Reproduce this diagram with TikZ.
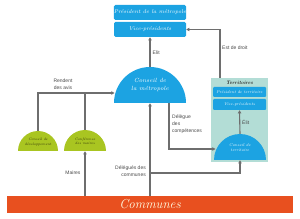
\documentclass[tikz,border=0pt]{standalone}
\usepackage{fontspec}
\setsansfont{Liberation Sans}
\usetikzlibrary{arrows.meta,calc}
\definecolor{mblue}{HTML}{1CA3E2}
\definecolor{mgreen}{HTML}{A9C521}
\definecolor{mteal}{HTML}{B3DDD6}
\definecolor{morange}{HTML}{E8501F}
\definecolor{mgrey}{HTML}{6E6E6E}
\definecolor{mtext}{HTML}{4A4A4A}
\definecolor{mdark}{HTML}{33360A}
\begin{document}
\begin{tikzpicture}[x=1pt,y=-1pt,
  bluebox/.style={fill=mblue,rounded corners=1.5pt,text=white,font=\rmfamily\itshape\fontsize{5.5}{7}\selectfont,inner sep=0pt},
  smallbluebox/.style={fill=mblue,rounded corners=1pt,text=white,font=\rmfamily\itshape\fontsize{4}{5}\selectfont,inner sep=0pt},
  domelabel/.style={inner sep=0pt,align=center},
  lbl/.style={font=\sffamily\fontsize{5}{7}\selectfont,text=mtext,inner sep=0pt},
  conn/.style={draw=mgrey,line width=1.1pt},
  arr/.style={conn,-{Triangle[length=3.2pt,width=3.4pt]}}
]
\useasboundingbox (0,0) rectangle (300,219);
% top boxes
\node[bluebox,minimum width=72pt,minimum height=15pt] (pm) at (150,12.5) {Président de la métropole};
\node[bluebox,minimum width=72pt,minimum height=15pt] (vp) at (150,29.5) {Vice-présidents};
% territory box
\fill[mteal] (211,78) rectangle (268,162);
\node[font=\rmfamily\itshape\bfseries\fontsize{5}{6}\selectfont,text=black!85,inner sep=0pt] (terr) at (239.5,83) {Territoires};
\coordinate (terrtop) at (220,78);
\node[smallbluebox,minimum width=53pt,minimum height=10pt] (pt) at (239.5,92) {Président de territoire};
\node[smallbluebox,minimum width=53pt,minimum height=11pt] (tvp) at (239.5,104.5) {Vice-présidents};
% domes
\fill[mblue] (114,103) arc[start angle=180,end angle=360,radius=36];
\node[domelabel,minimum width=72pt,minimum height=36pt,text=white,font=\rmfamily\itshape\fontsize{6}{7.5}\selectfont] (cm) at (150,85) {Conseil de\\la métropole};
\fill[mblue] (214,160) arc[start angle=180,end angle=360,radius=26];
\node[domelabel,minimum width=52pt,minimum height=26pt,text=white,font=\rmfamily\itshape\fontsize{4}{5}\selectfont] (ct) at (240,147) {\\Conseil de\\territoire};
\fill[mgreen] (18,151) arc[start angle=180,end angle=360,radius=20];
\node[domelabel,minimum width=40pt,minimum height=20pt,text=mdark,font=\rmfamily\itshape\fontsize{3.6}{4.4}\selectfont] (cd) at (38,141) {\\Conseil de\\développement};
\fill[mgreen] (64,151) arc[start angle=180,end angle=360,radius=21];
\node[domelabel,minimum width=42pt,minimum height=21pt,text=mdark,font=\rmfamily\itshape\fontsize{3.6}{4.4}\selectfont] (cf) at (85,140.5) {\\Conférence\\des maires};
% communes
\node[fill=morange,minimum width=286pt,minimum height=17pt,inner sep=0pt,text=white!90!yellow,font=\rmfamily\itshape\fontsize{13}{14}\selectfont] (com) at (150,204.5) {Communes};
% connectors
\draw[arr] (cm.north) -- (vp.south);
\node[lbl,anchor=west] (elit) at (152.5,53) {Elit};
\coordinate (avis) at (114.5,93);
\draw[arr] (cd.north) |- (avis);
\draw[conn] (cf.north) -- (cf.north |- avis);
\node[lbl,align=center] (rend) at (63,84) {Rendent\\des avis};
\draw[arr] (com.north -| cf.north) -- (cf.south);
\node[lbl] (mai) at (73,173) {Maires};
\coordinate (br) at (150,173);
\draw[arr] (com.north -| cm.north) -- (cm.south);
\draw[arr] (br) -| (ct.south);
\node[lbl,align=right,anchor=east] (dlc) at (146,171) {Délégués des\\communes};
\coordinate (dl) at (169,103);
\coordinate (ctw) at (215.5,149);
\draw[arr] (dl) |- (ctw);
\node[lbl,align=left,anchor=north west] (dlg) at (172,114.5) {Délègue\\des\\compétences};
\draw[arr] (ct.north) -- (tvp.south);
\node[lbl,anchor=west] (elit2) at (242,122) {Élit};
\draw[arr] (terrtop) |- (vp.east);
\node[lbl,anchor=west] (edd) at (222,48) {Est de droit};
\end{tikzpicture}
\end{document}
